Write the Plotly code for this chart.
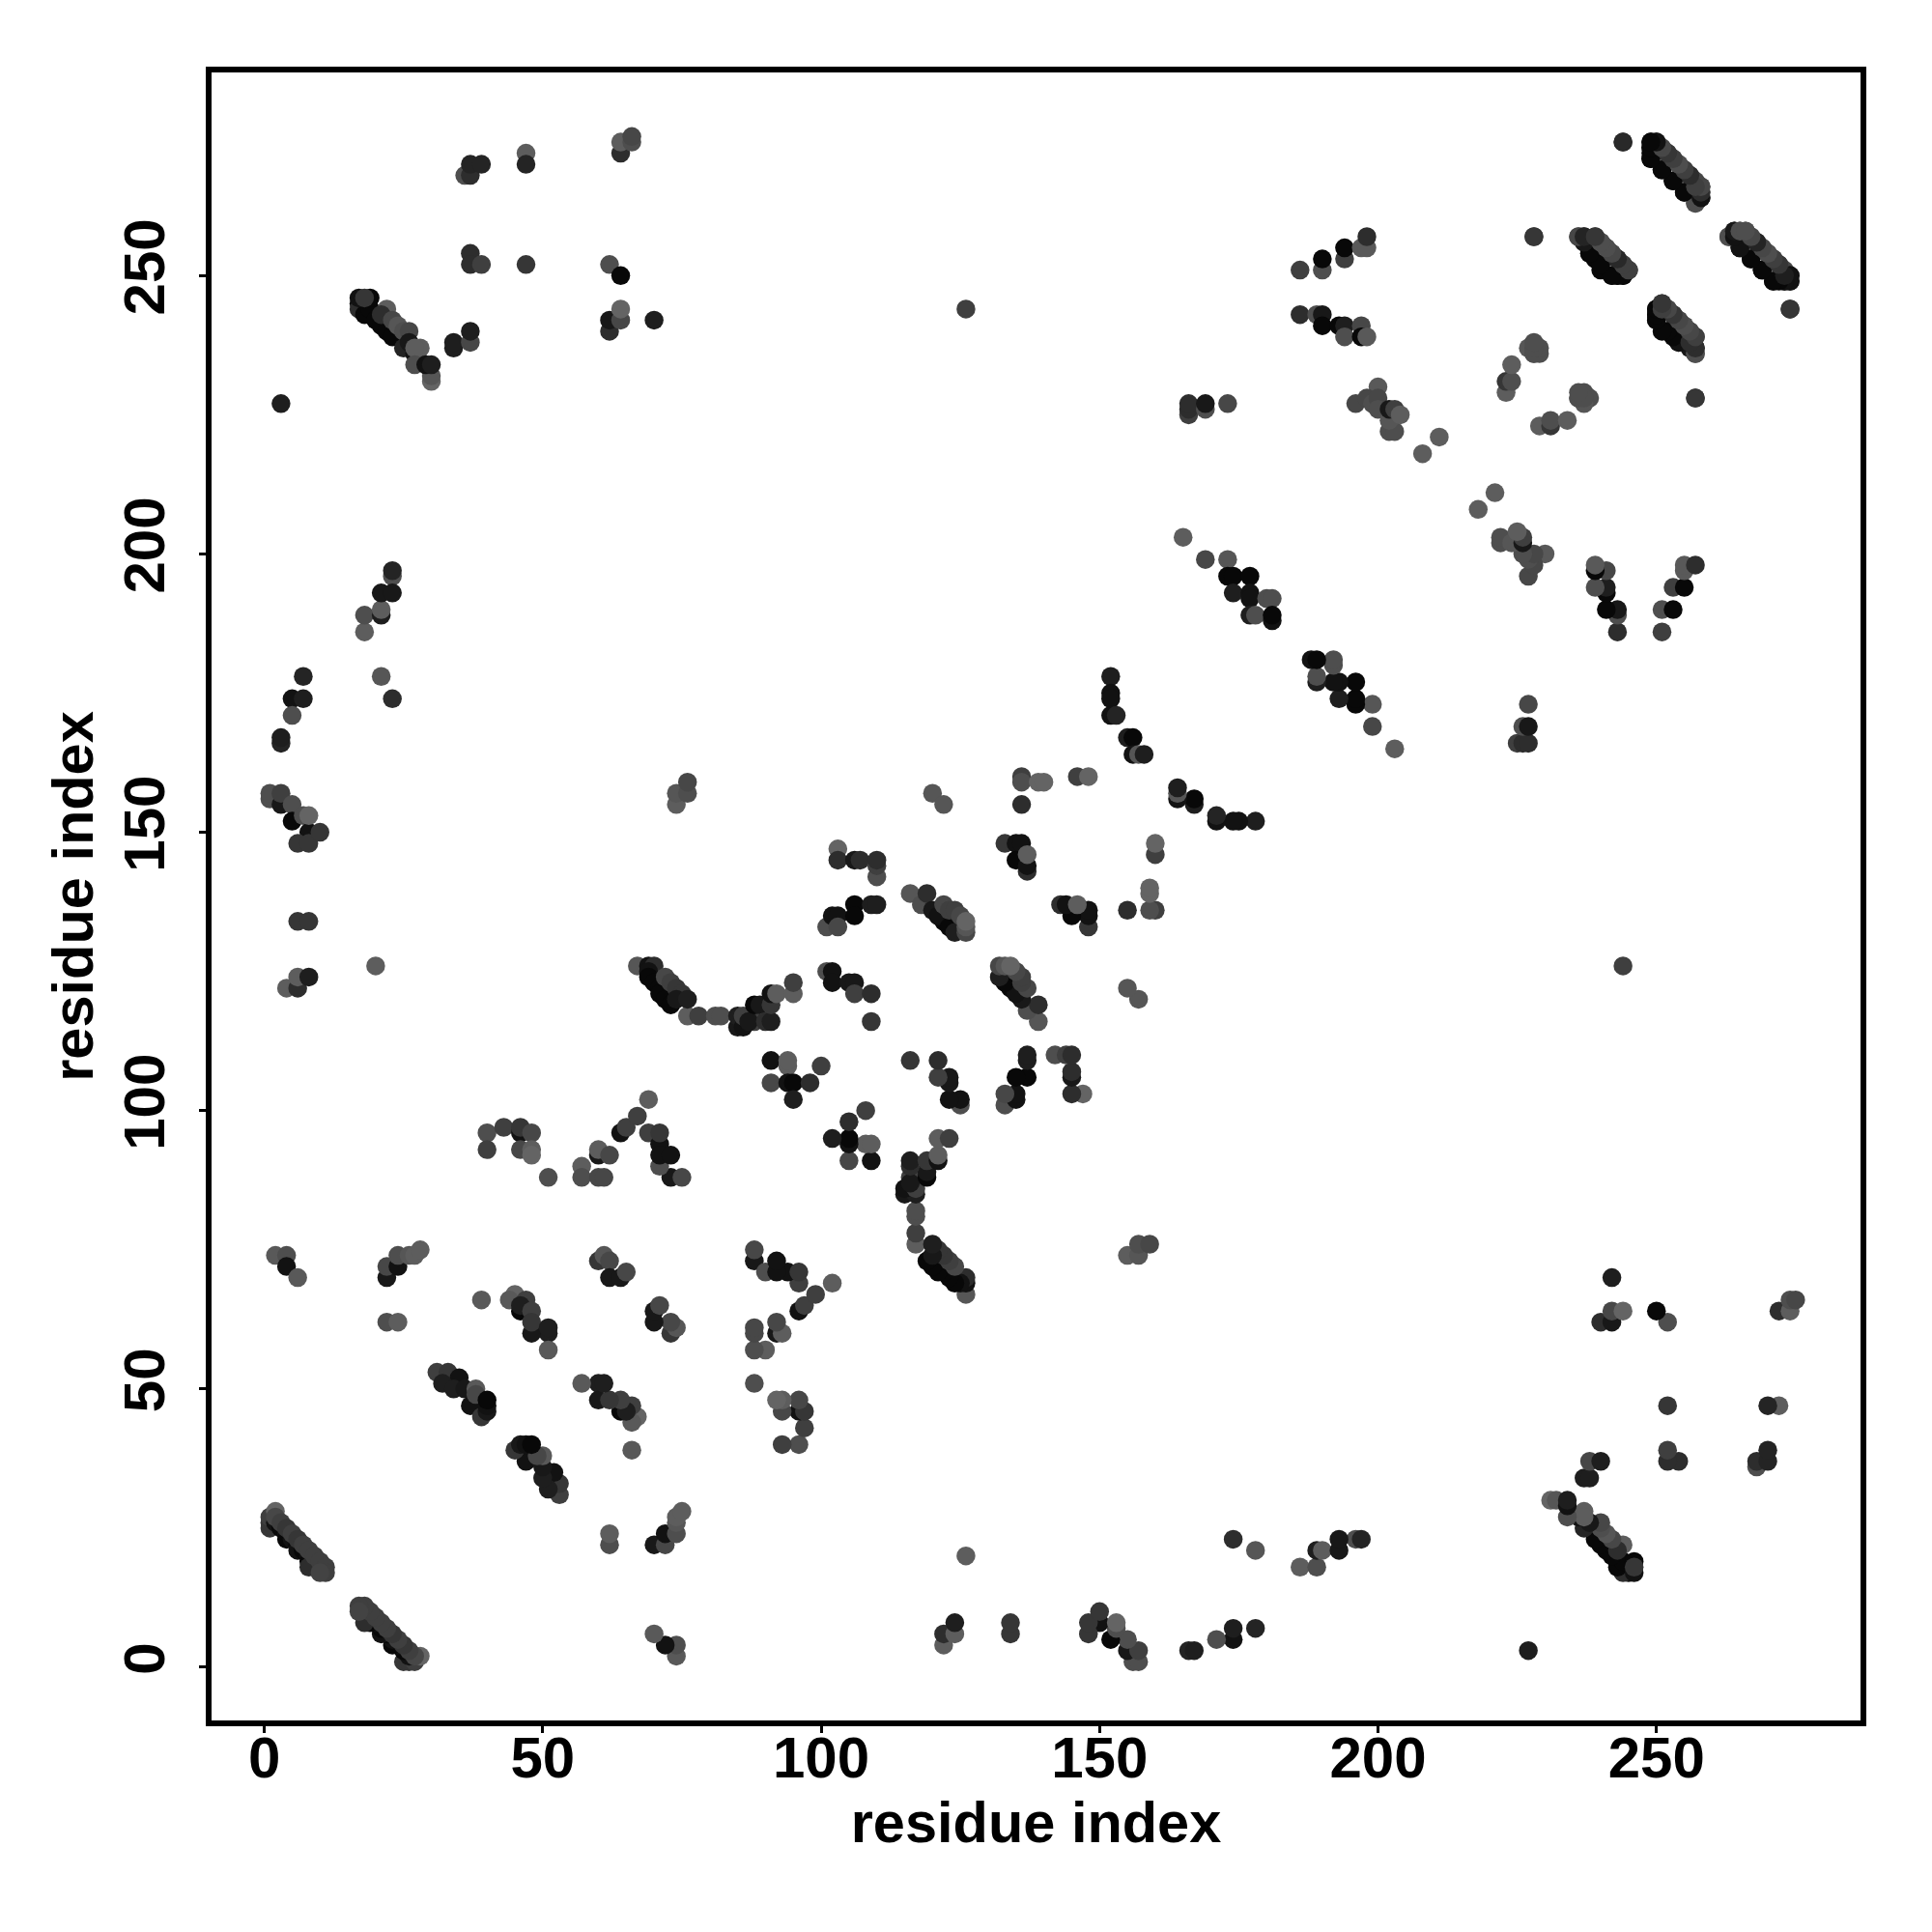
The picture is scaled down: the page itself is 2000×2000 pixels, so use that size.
import plotly.graph_objects as go

# (residue i, residue j, grey level) for i < j; the map is symmetric, mirrored below
hairpin_a = [(1,25,40),(1,26,40),(1,27,50),(2,26,5),(3,25,0),(4,24,5),(4,23,0),(5,23,5),(6,22,0),(6,21,5),(7,21,0),(8,20,5),(8,19,0),(9,19,5),(8,18,30),
             (2,28,100),(2,27,60),(3,26,50),(4,25,40),(5,24,50),(6,23,40),(7,22,50),(8,21,50),(9,20,50),(10,19,50),(11,18,50),(11,17,50),(10,17,55)]
n_term_far = [(2,74,85),(4,74,70),(4,72,5),(6,70,85),(22,70,10),(22,72,60),(24,72,5),(24,74,70),(26,74,80),(27,74,90),(28,75,90),(22,62,70),(24,62,90)]
strand_31 = [(31,53,50),(33,53,40),(35,52,5),(32,51,15),(34,50,15),(36,50,10),(37,47,5),(38,50,85),(38,49,60),(39,45,40),(40,46,10),(40,47,5),(40,48,0)]
strand_44 = [(45,67,100),(44,66,85),(47,66,50),(46,64,0),(46,65,15),(48,64,50),(51,60,15),(48,60,10),(48,62,40),(51,61,15),(51,57,85),(39,66,85)]
strand_60 = [(60,73,40),(61,74,80),(62,73,60),(62,70,10),(64,70,10),(65,71,60)]
strand_88 = [(51,88,70),(57,90,90),(57,88,70),(60,88,60),(61,88,60),(73,88,10),(75,88,60)]
loop_40 = [(40,96,70),(43,97,50),(46,96,5),(46,97,40),(48,96,60),(40,93,50),(46,93,60),(48,93,90),(48,92,100),(60,92,10),(60,93,90),(62,92,60),(64,96,5),(65,97,50),(67,99,50),(69,102,90),
           (69,96,50),(71,94,5),(71,96,40),(71,90,70),(71,92,5),(73,92,5)]
n_term_150 = [(18,186,90),(18,189,70),(21,189,15),(21,190,90),(7,178,20),(5,174,5),(7,174,15),(5,171,70),(3,166,20),(3,167,15),(21,178,80),(23,174,30),
              (1,156,70),(1,157,70),(3,155,10),(3,157,50),(5,155,70),(5,152,0),(7,153,70),(8,150,5),(8,153,100),(6,148,40),(8,148,40),(10,150,40),
              (6,134,40),(8,134,40),(20,126,90),(4,122,90),(6,122,30),(6,124,90),(8,124,15),(74,155,90),(74,157,80),(76,157,70),(76,159,60)]
n_term_250 = [(3,227,15),(17,245,5),(17,244,30),(18,243,0),(19,244,0),(20,242,0),(21,241,0),(22,240,0),(23,239,0),(17,246,5),(19,246,0),(18,246,40),
              (22,244,90),(21,243,30),(23,242,60),(24,241,80),(25,240,70),(26,240,60),(25,237,20),(26,238,10),(27,236,5),(28,237,90),(27,237,90),(27,234,70),
              (30,231,100),(30,232,80),(29,234,5),(30,234,15),(34,237,15),(34,238,15),(37,238,60),(37,240,15),(37,254,30),(37,252,30),(39,252,50),(47,252,40),
              (36,268,70),(37,268,30),(37,270,20),(39,270,20),(47,272,90),(47,270,20),(64,272,30),(64,274,90),(66,274,70),(66,275,60),(62,252,70),(64,250,0),
              (62,240,30),(62,242,10),(64,242,60),(64,244,100),(70,242,15),(23,196,70),(23,197,20),(21,193,10),(23,193,10)]
strand_67 = [(67,126,80),(69,126,5),(70,126,30),(69,125,5),(69,124,0),(70,123,0),(71,122,0),(71,121,0),(72,120,0),(73,119,0),(76,117,90),(72,124,60),(73,123,50),(74,122,40),(75,121,40),
             (74,120,10),(76,120,15),(78,117,50),(81,117,70),(82,117,70),(85,115,10),(85,117,15),(86,115,5),(86,117,50),(88,116,50),(87,116,10),(88,119,0),(89,119,10),
             (90,116,30),(91,116,15),(91,119,40),(91,121,5),(92,121,90),(95,121,90),(95,123,50)]
strand_91 = [(91,109,5),(94,108,90),(94,109,90),(100,108,50),(91,105,60),(94,105,5),(95,105,0),(98,105,30),(95,102,15),
             (101,125,70),(102,125,5),(102,123,5),(105,123,10),(106,123,10),(106,121,50),(109,121,30),(109,116,40),
             (101,133,70),(102,135,5),(103,135,5),(103,133,60),(106,137,0),(106,135,0),(109,137,15),(110,137,15),
             (103,147,100),(103,145,30),(106,145,10),(107,145,30),(110,142,70),(110,144,50),(110,145,30)]
strand_116 = [(116,139,80),(118,137,70),(119,139,30),(120,136,10),(122,134,0),(121,135,5),(123,133,0),(122,137,60),(123,136,50),(124,132,15),(124,136,50),(125,135,60),(126,132,60),(126,133,80),(126,134,100),
              (120,157,80),(122,155,80),(136,155,30),(136,160,50),(136,159,70),(139,159,100),(140,159,100),(146,160,50),(148,160,100)]
strand_133 = [(133,148,40),(135,148,5),(136,148,5),(135,145,0),(137,143,30),(137,144,5),(137,146,90)]
strand_152 = [(152,178,15),(152,175,5),(152,174,5),(152,171,5),(153,171,20),(155,167,15),(156,167,0),(156,164,5),(157,164,80),(158,164,15)]
strand_165 = [(165,203,90),(169,199,60),(173,199,80),(173,196,0),(174,196,0),(177,196,0),(174,193,15),(177,193,5),(177,192,5),(180,192,70),(181,192,70),(177,189,15),(178,189,70),(181,188,5),(181,189,0),
              (126,244,50),(166,225,50),(166,226,30),(166,227,30),(169,226,70),(169,227,10),(173,227,60),(186,251,50),(186,243,30)]
strand_189 = [(190,251,70),(190,253,0),(194,253,50),(194,255,0),(197,255,85),(198,255,85),(198,257,30),(189,243,70),(190,243,10),(190,241,0),(193,241,0),(194,241,15),(194,239,70),
              (197,241,60),(197,239,0),(198,239,85),(200,230,85),(196,227,60),(198,228,60),(199,227,70),(200,228,60),(200,226,70),(202,222,70),(203,222,70),(202,224,80),(202,226,10),(203,226,50),(204,225,90),
              (208,218,90),(211,221,90),(223,229,90),(223,231,40),(224,231,70),(224,234,90),(227,237,80),(228,236,70),(228,237,70),(229,236,70),(236,228,70),(237,229,70),(237,228,70),(238,228,70),(228,257,40)]
band_236 = [(238,254,5),(239,253,0),(240,252,0),(240,251,0),(242,250,0),(243,250,0),(244,250,0),(236,257,70),(237,257,30),(238,256,30),(239,257,50),(240,256,60),(241,255,70),(242,254,60),(243,253,40),(244,252,60),(244,251,50),(245,251,40)]
band_250 = [(250,244,0),(250,243,0),(250,242,0),(252,240,0),(254,238,0),(256,237,10),(257,236,60),(257,237,20),(251,245,50),(252,244,50),(253,243,25),(254,242,60),(255,241,70),(256,240,70),(257,239,40),(257,228,40)]
band_249 = [(244,274,40),(249,274,5),(250,274,5),(249,273,5),(249,272,0),(249,271,0),(251,269,0),(253,267,0),(255,265,5),(257,263,70),(257,264,5),(250,273,15),(252,272,40),(253,271,50),(254,270,70),(255,269,60),(256,268,20),(257,267,60),(258,264,10),(258,265,70),(258,266,70)]
band_263 = [(263,257,70),(265,255,0),(267,253,0),(269,251,0),(271,249,0),(273,249,0),(264,258,5),(265,258,30),(266,258,60),(266,257,50),(268,256,30),(269,255,50),(270,254,70),(271,253,50),(272,252,40),(273,251,60),(274,250,5),(274,249,0),(274,244,25)]

tick_values = [0, 50, 100, 150, 200, 250]
tick_labels = ["0", "50", "100", "150", "200", "250"]
axis_title = "residue index"

contacts = (hairpin_a + n_term_far + strand_31 + strand_44 + strand_60 + strand_88 + loop_40 + n_term_150 + n_term_250 +
            strand_67 + strand_91 + strand_116 + strand_133 + strand_152 + strand_165 + strand_189 + band_236 + band_250 + band_249 + band_263)

xs = [c[0] for c in contacts] + [c[1] for c in contacts]
ys = [c[1] for c in contacts] + [c[0] for c in contacts]


def shade(level):
    v = round(8 + 92 * (level / 100) ** 0.75)
    return f"rgb({v},{v},{v})"


colors = [shade(c[2]) for c in contacts] * 2

FONT = "Liberation Sans"
fig = go.Figure(go.Scatter(x=xs, y=ys, mode="markers", marker=dict(size=19.5, color=colors, line=dict(width=0)), hoverinfo="skip"))
axis = dict(tickmode="array", tickvals=tick_values, ticktext=[f"<b>{t}</b>" for t in tick_labels], showgrid=False, zeroline=False,
            showline=True, linecolor="black", linewidth=6, mirror=True, ticks="outside", ticklen=7, tickwidth=3, tickcolor="black",
            tickfont=dict(family=FONT, size=60, color="black"))
fig.update_xaxes(**axis, range=[-9.47, 286.65], ticklabelstandoff=-26,
                 title=dict(text=f"<b>{axis_title}</b>", font=dict(family=FONT, size=59.5, color="black"), standoff=10))
fig.update_yaxes(**axis, range=[-9.55, 286.5], tickangle=-90, ticklabelstandoff=12,
                 title=dict(text=f"<b>{axis_title}</b>", font=dict(family=FONT, size=59.5, color="black"), standoff=2))
fig.update_layout(width=2000, height=2000, margin=dict(l=218.7, r=74, t=75, b=219, pad=0, autoexpand=False),
                  paper_bgcolor="white", plot_bgcolor="white", showlegend=False)
fig.write_html("out.html", config={"displayModeBar": False}, post_script="document.body.style.margin='0';")
